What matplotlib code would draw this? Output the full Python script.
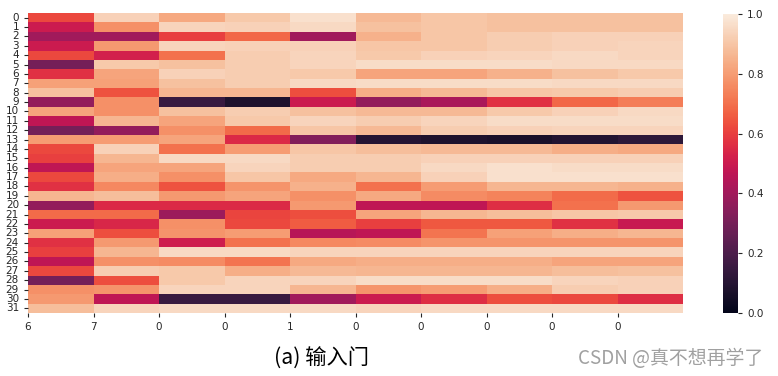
import numpy as np
import matplotlib
matplotlib.use("Agg")
import matplotlib.pyplot as plt
import seaborn as sns

row_labels = [str(i) for i in range(32)]
x_tick_labels = ["6", "7", "0", "0", "1", "0", "0", "0", "0", "0"]

values = [
    [0.62, 0.93, 0.83, 0.91, 0.97, 0.87, 0.90, 0.89, 0.89, 0.89],
    [0.50, 0.77, 0.94, 0.93, 0.95, 0.89, 0.90, 0.89, 0.89, 0.89],
    [0.40, 0.40, 0.60, 0.68, 0.40, 0.85, 0.90, 0.92, 0.93, 0.93],
    [0.50, 0.79, 0.94, 0.93, 0.93, 0.90, 0.90, 0.92, 0.93, 0.94],
    [0.62, 0.52, 0.70, 0.92, 0.94, 0.91, 0.93, 0.94, 0.95, 0.94],
    [0.30, 0.91, 0.89, 0.92, 0.94, 0.96, 0.96, 0.96, 0.95, 0.95],
    [0.57, 0.82, 0.93, 0.92, 0.91, 0.82, 0.82, 0.85, 0.89, 0.91],
    [0.81, 0.81, 0.89, 0.92, 0.95, 0.96, 0.96, 0.96, 0.95, 0.95],
    [0.89, 0.64, 0.86, 0.86, 0.63, 0.84, 0.87, 0.90, 0.91, 0.92],
    [0.37, 0.77, 0.15, 0.08, 0.50, 0.37, 0.42, 0.57, 0.68, 0.73],
    [0.82, 0.77, 0.89, 0.92, 0.89, 0.87, 0.87, 0.91, 0.93, 0.95],
    [0.47, 0.86, 0.82, 0.91, 0.94, 0.92, 0.94, 0.96, 0.96, 0.96],
    [0.30, 0.37, 0.77, 0.69, 0.90, 0.87, 0.92, 0.93, 0.94, 0.94],
    [0.80, 0.80, 0.82, 0.55, 0.33, 0.10, 0.08, 0.07, 0.09, 0.12],
    [0.62, 0.93, 0.70, 0.80, 0.90, 0.88, 0.87, 0.87, 0.84, 0.83],
    [0.60, 0.86, 0.95, 0.95, 0.92, 0.92, 0.93, 0.93, 0.93, 0.93],
    [0.47, 0.82, 0.82, 0.94, 0.92, 0.92, 0.95, 0.97, 0.96, 0.96],
    [0.62, 0.84, 0.77, 0.90, 0.83, 0.86, 0.93, 0.97, 0.97, 0.97],
    [0.57, 0.75, 0.64, 0.78, 0.85, 0.70, 0.80, 0.86, 0.86, 0.85],
    [0.86, 0.88, 0.79, 0.82, 0.77, 0.83, 0.76, 0.74, 0.69, 0.64],
    [0.37, 0.55, 0.55, 0.55, 0.79, 0.47, 0.47, 0.56, 0.70, 0.79],
    [0.69, 0.69, 0.39, 0.61, 0.63, 0.82, 0.86, 0.88, 0.90, 0.91],
    [0.50, 0.54, 0.77, 0.62, 0.66, 0.60, 0.65, 0.65, 0.57, 0.49],
    [0.81, 0.63, 0.78, 0.80, 0.45, 0.47, 0.71, 0.81, 0.84, 0.86],
    [0.57, 0.79, 0.51, 0.70, 0.75, 0.76, 0.78, 0.78, 0.78, 0.78],
    [0.60, 0.86, 0.95, 0.95, 0.94, 0.94, 0.94, 0.94, 0.94, 0.94],
    [0.47, 0.77, 0.76, 0.71, 0.83, 0.84, 0.84, 0.84, 0.82, 0.82],
    [0.62, 0.92, 0.91, 0.84, 0.87, 0.86, 0.86, 0.86, 0.88, 0.89],
    [0.30, 0.63, 0.91, 0.94, 0.94, 0.96, 0.96, 0.96, 0.94, 0.93],
    [0.77, 0.78, 0.94, 0.94, 0.86, 0.78, 0.80, 0.84, 0.92, 0.93],
    [0.79, 0.47, 0.15, 0.15, 0.40, 0.50, 0.56, 0.63, 0.62, 0.56],
    [0.88, 0.94, 0.95, 0.95, 0.95, 0.94, 0.95, 0.95, 0.95, 0.95],
]

title_text = "(a) 输入门"
watermark = "CSDN @真不想再学了"

data = np.array(values)

fig = plt.figure(figsize=(7.78, 3.76), dpi=100)
ax = fig.add_axes([28/778, 1-313/376, (683-28)/778, 300/376])
cax = fig.add_axes([723/778, 1-313/376, 15/778, 299/376])

sns.heatmap(data, ax=ax, cbar_ax=cax, cmap="rocket", vmin=0, vmax=1,
            yticklabels=row_labels)
ax.set_xticks(np.arange(len(x_tick_labels)))
ax.set_xticklabels(x_tick_labels, rotation=0)
ax.set_yticks(np.arange(len(row_labels)) + 0.5)
ax.set_yticklabels(row_labels, rotation=0)
ax.tick_params(axis="both", labelsize=7.5, length=3, colors="#262626", labelcolor="#262626")
cax.tick_params(labelsize=7.5, length=3, colors="#262626")
cax.set_yticks([0, 0.2, 0.4, 0.6, 0.8, 1.0])
cax.set_yticklabels(["0.0", "0.2", "0.4", "0.6", "0.8", "1.0"])
for s in cax.spines.values():
    s.set_visible(False)

fig.text(322/778, 1-359/376, title_text, ha="center", va="center",
         fontsize=15.3, family=["Noto Sans CJK SC", "DejaVu Sans"], color="black")
fig.text(763/778, 1-358/376, watermark, ha="right", va="center",
         fontsize=13.6, family=["Noto Sans CJK SC", "DejaVu Sans"], color="#a0a0a0",
         fontweight="light")

fig.savefig("out.png", dpi=100)
